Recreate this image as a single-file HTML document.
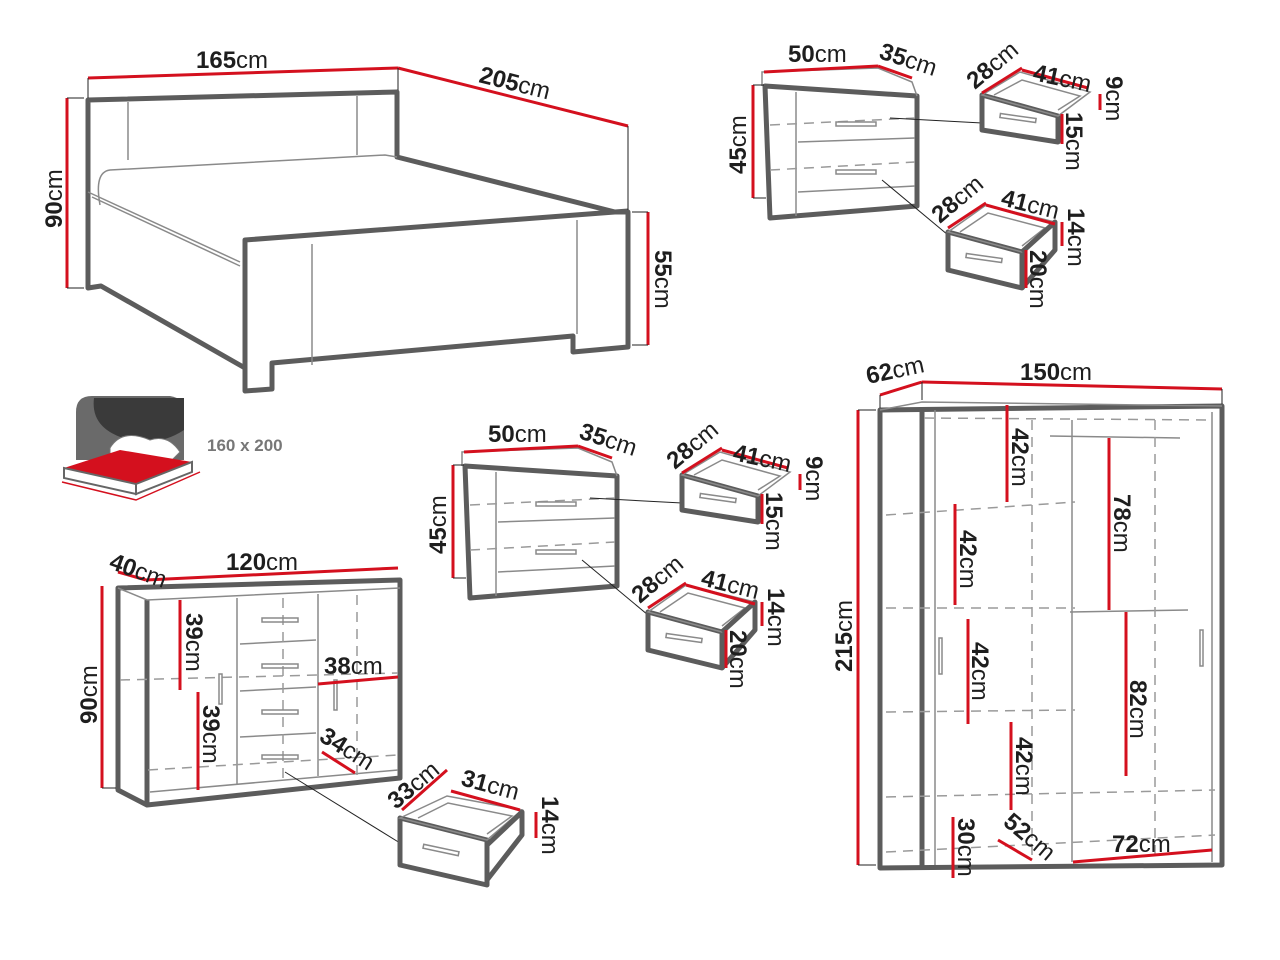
<!DOCTYPE html>
<html><head><meta charset="utf-8"><style>
html,body{margin:0;padding:0;background:#fff}
svg{display:block}
.g{fill:none;stroke:#5c5c5c;stroke-width:5;stroke-linejoin:round}
.gt{fill:none;stroke:#8a8a8a;stroke-width:1.5}
.d{fill:none;stroke:#9a9a9a;stroke-width:1.5;stroke-dasharray:10 7}
.r{stroke:#d4101e;stroke-width:3;fill:none}
.k{stroke:#222;stroke-width:1;fill:none}
text{font-family:"Liberation Sans",sans-serif;font-size:24px;fill:#1e1e1e}
.b{font-weight:bold}
</style></head><body>
<svg width="1280" height="960" viewBox="0 0 1280 960" xmlns="http://www.w3.org/2000/svg">
<defs>
<g id="ns">
  <polygon class="g" points="765,86 917,96 917,206 770,218"/>
  <polyline class="gt" points="762,86 762,72 878,68 912,82 917,96"/>
  <line class="gt" x1="796" y1="92" x2="796" y2="216"/>
  <line class="gt" x1="798" y1="142" x2="915" y2="138"/>
  <line class="gt" x1="798" y1="192" x2="915" y2="186"/>
  <line class="d" x1="770" y1="125" x2="915" y2="118"/>
  <line class="d" x1="770" y1="170" x2="915" y2="162"/>
  <rect x="836" y="122" width="40" height="4" class="gt"/>
  <rect x="836" y="170" width="40" height="4" class="gt"/>
  <line class="k" x1="890" y1="118" x2="982" y2="123"/>
  <line class="k" x1="882" y1="180" x2="948" y2="235"/>
  <line class="r" x1="764" y1="72" x2="878" y2="66"/>
  <line class="r" x1="878" y1="66" x2="912" y2="78"/>
  <line class="r" x1="753" y1="85" x2="753" y2="198"/>
  <line class="k" x1="753" y1="85" x2="764" y2="85"/>
  <line class="k" x1="753" y1="198" x2="766" y2="198"/>
  <text class="b" x="788" y="62">50<tspan font-weight="normal">cm</tspan></text>
  <text class="b" transform="translate(878,58) rotate(18)">35<tspan font-weight="normal">cm</tspan></text>
  <text class="b" transform="translate(746,174) rotate(-90)">45<tspan font-weight="normal">cm</tspan></text>
  <polygon class="g" points="982,95 1058,116 1058,142 982,130"/>
  <polygon class="gt" points="982,95 1020,72 1090,92 1058,116"/>
  <polyline class="gt" points="994,95 1022,80 1080,96 1058,110"/>
  <rect x="1000" y="116" width="36" height="4" class="gt" transform="rotate(8 1018 118)"/>
  <line class="r" x1="982" y1="93" x2="1022" y2="68"/>
  <line class="r" x1="1022" y1="70" x2="1088" y2="88"/>
  <line class="r" x1="1100" y1="94" x2="1100" y2="110"/>
  <line class="r" x1="1062" y1="114" x2="1062" y2="144"/>
  <text class="b" transform="translate(975,90) rotate(-40)">28<tspan font-weight="normal">cm</tspan></text>
  <text class="b" transform="translate(1032,80) rotate(12)">41<tspan font-weight="normal">cm</tspan></text>
  <text class="b" transform="translate(1106,76) rotate(90)">9<tspan font-weight="normal">cm</tspan></text>
  <text class="b" transform="translate(1066,112) rotate(90)">15<tspan font-weight="normal">cm</tspan></text>
  <polygon class="g" points="948,232 1022,252 1022,288 948,270"/>
  <polygon class="gt" points="948,232 986,205 1055,222 1022,252"/>
  <polyline class="gt" points="960,232 988,213 1045,228 1022,246"/>
  <polyline class="g" points="1022,252 1055,222 1055,250 1022,288"/>
  <rect x="966" y="256" width="36" height="4" class="gt" transform="rotate(8 984 258)"/>
  <line class="r" x1="948" y1="228" x2="986" y2="203"/>
  <line class="r" x1="986" y1="205" x2="1055" y2="224"/>
  <line class="r" x1="1062" y1="222" x2="1062" y2="246"/>
  <line class="r" x1="1026" y1="250" x2="1026" y2="288"/>
  <text class="b" transform="translate(940,224) rotate(-40)">28<tspan font-weight="normal">cm</tspan></text>
  <text class="b" transform="translate(1000,205) rotate(14)">41<tspan font-weight="normal">cm</tspan></text>
  <text class="b" transform="translate(1068,208) rotate(90)">14<tspan font-weight="normal">cm</tspan></text>
  <text class="b" transform="translate(1030,250) rotate(90)">20<tspan font-weight="normal">cm</tspan></text>
</g>
</defs>

<polygon class="g" points="88,100 397,92 397,157 615,212 628,212 628,347 573,352 573,336 272,363 272,389 245,391 245,368 101,286 88,288"/>
<polyline class="g" points="245,391 245,240 628,211"/>
<line class="gt" x1="128" y1="102" x2="128" y2="160"/>
<line class="gt" x1="357" y1="96" x2="357" y2="155"/>
<path class="gt" d="M100,205 Q94,172 110,170 L385,155 L397,157"/>
<line class="gt" x1="88" y1="192" x2="240" y2="262"/>
<line class="gt" x1="92" y1="197" x2="240" y2="266"/>
<line class="gt" x1="312" y1="244" x2="312" y2="365"/>
<line class="gt" x1="577" y1="220" x2="577" y2="334"/>
<line class="r" x1="88" y1="78" x2="398" y2="68"/>
<line class="r" x1="398" y1="68" x2="628" y2="126"/>
<line class="k" x1="88" y1="78" x2="88" y2="98"/>
<line class="k" x1="398" y1="68" x2="398" y2="90"/>
<line class="k" x1="628" y1="126" x2="628" y2="210"/>
<line class="r" x1="67" y1="98" x2="67" y2="288"/>
<line class="k" x1="67" y1="98" x2="84" y2="98"/>
<line class="k" x1="67" y1="288" x2="84" y2="288"/>
<line class="r" x1="648" y1="212" x2="648" y2="345"/>
<line class="k" x1="632" y1="212" x2="648" y2="212"/>
<line class="k" x1="632" y1="345" x2="648" y2="345"/>
<text class="b" x="196" y="68">165<tspan font-weight="normal">cm</tspan></text>
<text class="b" transform="translate(478,82) rotate(14)">205<tspan font-weight="normal">cm</tspan></text>
<text class="b" transform="translate(62,228) rotate(-90)">90<tspan font-weight="normal">cm</tspan></text>
<text class="b" transform="translate(655,250) rotate(90)">55<tspan font-weight="normal">cm</tspan></text>

<path d="M76,440 L76,412 Q76,396 92,396 L170,396 Q184,398 184,412 L184,460 L76,460 Z" fill="#6a6a6a"/>
<path d="M94,398 Q90,430 130,440 Q160,446 184,430 L184,398 Z" fill="#3a3a3a"/>
<path d="M110,448 Q122,428 150,440 Q168,434 180,452 L170,462 L110,462 Z" fill="#fff" stroke="#777"/>
<polygon points="64,468 136,484 192,462 120,450" fill="#d4101e"/>
<polygon points="64,468 136,484 136,494 64,478" fill="#fff" stroke="#666" stroke-width="2"/>
<polygon points="136,484 192,462 192,472 136,494" fill="#fff" stroke="#666" stroke-width="2"/>
<path d="M62,482 L136,500 L200,472" fill="none" stroke="#d4101e" stroke-width="1.5"/>
<text x="207" y="451" style="font-size:17px;font-weight:bold;fill:#777">160 x 200</text>

<use href="#ns"/>
<use href="#ns" transform="translate(-300,380)"/>

<polygon class="g" points="118,588 400,580 400,778 147,805 118,790"/>
<line class="g" x1="147" y1="600" x2="147" y2="805"/>
<polyline class="gt" points="118,588 147,600 400,588"/>
<line class="gt" x1="237" y1="598" x2="237" y2="785"/>
<line class="gt" x1="318" y1="594" x2="318" y2="776"/>
<line class="gt" x1="240" y1="644" x2="316" y2="640"/>
<line class="gt" x1="240" y1="691" x2="316" y2="687"/>
<line class="gt" x1="240" y1="737" x2="316" y2="733"/>
<line class="gt" x1="150" y1="792" x2="398" y2="770"/>
<line class="d" x1="120" y1="680" x2="398" y2="673"/>
<line class="d" x1="148" y1="770" x2="398" y2="755"/>
<line class="d" x1="283" y1="598" x2="283" y2="780"/>
<line class="d" x1="357" y1="595" x2="357" y2="775"/>
<rect x="262" y="618" width="36" height="4" class="gt"/>
<rect x="262" y="664" width="36" height="4" class="gt"/>
<rect x="262" y="710" width="36" height="4" class="gt"/>
<rect x="262" y="755" width="36" height="4" class="gt"/>
<rect x="219" y="674" width="3" height="30" class="gt"/>
<rect x="334" y="680" width="3" height="30" class="gt"/>
<line class="k" x1="285" y1="772" x2="400" y2="843"/>
<line class="r" x1="118" y1="572" x2="146" y2="580"/>
<line class="r" x1="146" y1="580" x2="398" y2="568"/>
<line class="r" x1="102" y1="586" x2="102" y2="788"/>
<line class="k" x1="102" y1="788" x2="116" y2="788"/>
<line class="r" x1="180" y1="600" x2="180" y2="690"/>
<line class="r" x1="198" y1="692" x2="198" y2="790"/>
<line class="r" x1="318" y1="684" x2="398" y2="677"/>
<line class="r" x1="322" y1="752" x2="355" y2="773"/>
<text class="b" transform="translate(108,568) rotate(20)">40<tspan font-weight="normal">cm</tspan></text>
<text class="b" x="226" y="570">120<tspan font-weight="normal">cm</tspan></text>
<text class="b" transform="translate(97,724) rotate(-90)">90<tspan font-weight="normal">cm</tspan></text>
<text class="b" transform="translate(186,613) rotate(90)">39<tspan font-weight="normal">cm</tspan></text>
<text class="b" transform="translate(203,705) rotate(90)">39<tspan font-weight="normal">cm</tspan></text>
<text class="b" x="324" y="674">38<tspan font-weight="normal">cm</tspan></text>
<text class="b" transform="translate(318,740) rotate(32)">34<tspan font-weight="normal">cm</tspan></text>
<polygon class="g" points="400,818 487,840 487,885 400,865"/>
<polygon class="gt" points="400,818 447,796 522,810 487,840"/>
<polyline class="gt" points="418,818 448,803 512,816 487,834"/>
<polyline class="g" points="487,845 522,812 522,835 487,880"/>
<rect x="423" y="848" width="36" height="4" class="gt" transform="rotate(12 441 850)"/>
<line class="r" x1="402" y1="810" x2="447" y2="770"/>
<line class="r" x1="451" y1="791" x2="520" y2="810"/>
<line class="r" x1="536" y1="812" x2="536" y2="838"/>
<text class="b" transform="translate(396,810) rotate(-40)">33<tspan font-weight="normal">cm</tspan></text>
<text class="b" transform="translate(460,785) rotate(15)">31<tspan font-weight="normal">cm</tspan></text>
<text class="b" transform="translate(542,796) rotate(90)">14<tspan font-weight="normal">cm</tspan></text>

<polygon class="g" points="880,410 1222,406 1222,865 880,868"/>
<line class="g" x1="922" y1="410" x2="922" y2="868"/>
<polyline class="gt" points="880,410 922,402 1222,406"/>
<line class="gt" x1="935" y1="410" x2="935" y2="865"/>
<line class="gt" x1="1072" y1="420" x2="1072" y2="862"/>
<line class="gt" x1="1212" y1="412" x2="1212" y2="862"/>
<line class="gt" x1="1050" y1="436" x2="1180" y2="438"/>
<line class="gt" x1="1070" y1="612" x2="1188" y2="610"/>
<rect x="939" y="638" width="3" height="36" class="gt"/>
<rect x="1200" y="630" width="3" height="36" class="gt"/>
<g class="d">
<line x1="886" y1="515" x2="1075" y2="502"/>
<line x1="886" y1="608" x2="1075" y2="608"/>
<line x1="886" y1="712" x2="1075" y2="710"/>
<line x1="886" y1="797" x2="1215" y2="790"/>
<line x1="886" y1="852" x2="1215" y2="835"/>
<line x1="1032" y1="420" x2="1032" y2="860"/>
<line x1="1155" y1="420" x2="1155" y2="860"/>
<line x1="924" y1="418" x2="1210" y2="420"/>
</g>
<line class="r" x1="880" y1="395" x2="922" y2="382"/>
<line class="r" x1="922" y1="382" x2="1222" y2="389"/>
<line class="k" x1="880" y1="395" x2="880" y2="408"/>
<line class="k" x1="922" y1="382" x2="922" y2="400"/>
<line class="k" x1="1222" y1="389" x2="1222" y2="404"/>
<line class="r" x1="858" y1="410" x2="858" y2="865"/>
<line class="k" x1="858" y1="410" x2="876" y2="410"/>
<line class="k" x1="858" y1="865" x2="876" y2="865"/>
<line class="r" x1="1007" y1="405" x2="1007" y2="502"/>
<line class="r" x1="955" y1="504" x2="955" y2="605"/>
<line class="r" x1="968" y1="619" x2="968" y2="724"/>
<line class="r" x1="1011" y1="722" x2="1011" y2="810"/>
<line class="r" x1="1109" y1="438" x2="1109" y2="610"/>
<line class="r" x1="1126" y1="612" x2="1126" y2="776"/>
<line class="r" x1="953" y1="817" x2="953" y2="878"/>
<line class="r" x1="998" y1="840" x2="1032" y2="860"/>
<line class="r" x1="1073" y1="862" x2="1212" y2="850"/>
<text class="b" transform="translate(868,384) rotate(-12)">62<tspan font-weight="normal">cm</tspan></text>
<text class="b" x="1020" y="380">150<tspan font-weight="normal">cm</tspan></text>
<text class="b" transform="translate(852,672) rotate(-90)">215<tspan font-weight="normal">cm</tspan></text>
<text class="b" transform="translate(1012,428) rotate(90)">42<tspan font-weight="normal">cm</tspan></text>
<text class="b" transform="translate(960,530) rotate(90)">42<tspan font-weight="normal">cm</tspan></text>
<text class="b" transform="translate(972,642) rotate(90)">42<tspan font-weight="normal">cm</tspan></text>
<text class="b" transform="translate(1016,737) rotate(90)">42<tspan font-weight="normal">cm</tspan></text>
<text class="b" transform="translate(1114,494) rotate(90)">78<tspan font-weight="normal">cm</tspan></text>
<text class="b" transform="translate(1130,680) rotate(90)">82<tspan font-weight="normal">cm</tspan></text>
<text class="b" transform="translate(958,818) rotate(90)">30<tspan font-weight="normal">cm</tspan></text>
<text class="b" transform="translate(1002,824) rotate(40)">52<tspan font-weight="normal">cm</tspan></text>
<text class="b" x="1112" y="852">72<tspan font-weight="normal">cm</tspan></text>
</svg>
</body></html>
